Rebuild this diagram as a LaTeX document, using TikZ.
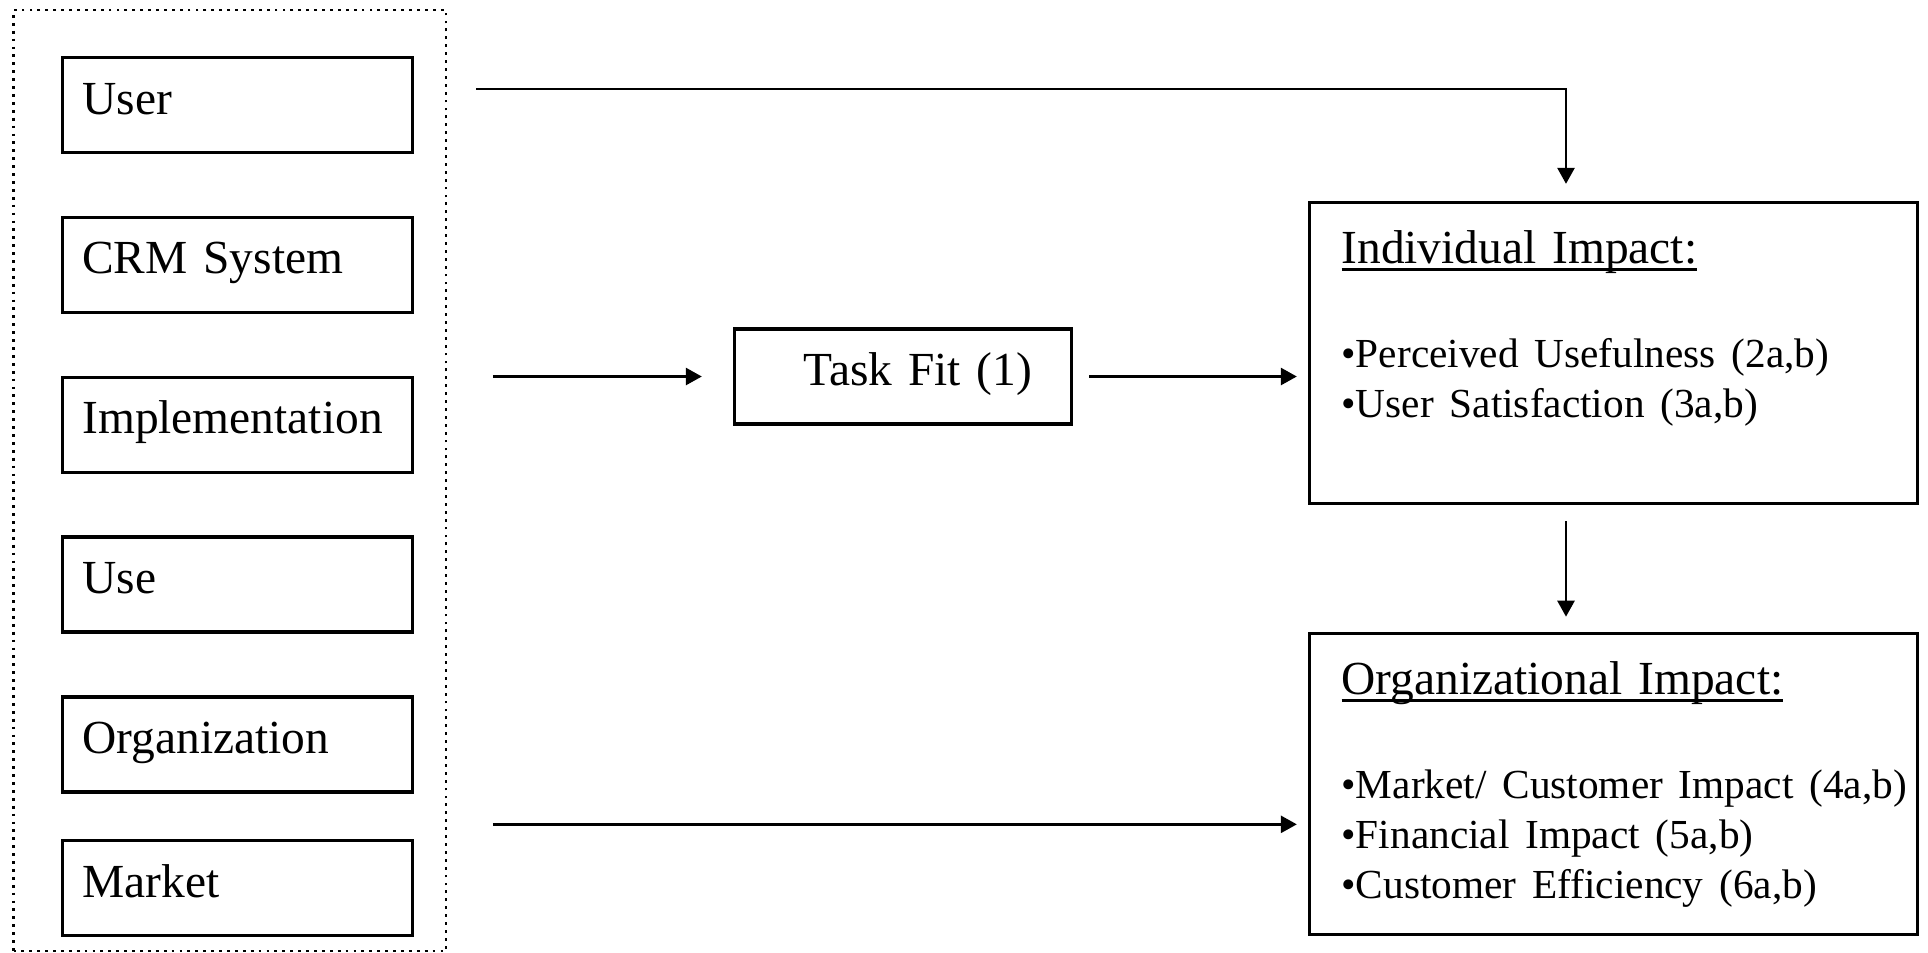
\documentclass[tikz,border=0pt]{standalone}
\usepackage{fontspec}
\setmainfont{Liberation Serif}
\usetikzlibrary{arrows.meta, positioning}

\newcommand{\itemfont}{\fontsize{23.5}{28.45}\selectfont}
\newcommand{\impacthead}[1]{\setbox0=\hbox{#1}\rlap{\rule[-0.15cm]{\wd0}{0.054cm}}\box0}

\begin{document}
\begin{tikzpicture}[
    >={Triangle[width=0.34cm, length=0.32cm]},
    font=\fontsize{27}{28.45}\selectfont,
    block/.style = {draw, line width=1.9pt, text width=6.2cm, inner xsep=0.4cm, inner ysep=0pt, text height=1.13cm, text depth=0.77cm, align=left},
    impact/.style = {draw, line width=1.9pt, text width=12.16cm, inner sep=0pt, text height=1.22cm, text depth=4.8cm, align=left, execute at begin node={\leftskip=0.64cm\rightskip=-0.6cm plus 1fil}},
    group/.style = {draw, line width=1.6pt, dash pattern=on 1.6pt off 2.9pt, minimum width=8.65cm, minimum height=18.82cm},
    arrow/.style = {->, line width=1.5pt}
]
\useasboundingbox (0,0) rectangle (38.56,-19.04);

% =========================================================
% INPUT FACTORS (left column)
% =========================================================
\node[block] (user) at (4.746,-2.1) {User};
\node[block, below=1.23cm of user] (crm) {CRM System};
\node[block, below=1.23cm of crm] (impl) {Implementation};
\node[block, below=1.23cm of impl] (use) {Use};
\node[block, below=1.23cm of use] (orga) {Organization};
\node[block, below=0.91cm of orga] (market) {Market};

% dotted frame round the factors
\node[group] (inputs) at (4.595,-9.61) {};

% =========================================================
% TASK FIT AND IMPACTS
% =========================================================
\node[block, text width=5.94cm] (task) at (18.06,-7.53) {\hspace*{0.98cm}Task Fit (1)};

\node[impact] (indiv) at (32.27,-7.06) {\impacthead{Individual Impact:}\\[1.08cm]{\itemfont\textbullet Perceived Usefulness (2a,b)\\\textbullet User Satisfaction (3a,b)}};

\node[impact, below=2.53cm of indiv] (org) {\impacthead{Organizational Impact:}\\[1.08cm]{\itemfont\textbullet Market/ Customer Impact (4a,b)\\\textbullet Financial Impact (5a,b)\\\textbullet Customer Efficiency (6a,b)}};

% =========================================================
% WIRING
% =========================================================
% top route: factors to individual impact
\draw[arrow, shorten >=0.34cm] ([shift={(1.25cm,0.32cm)}]user.east) -| ([xshift=-0.95cm]indiv.north);

% middle route through task fit
\draw[arrow, shorten >=0.62cm] ([xshift=-4.8cm]task.west) -- (task.west);
\draw[arrow, shorten <=0.32cm, shorten >=0.22cm] (task.east) -- (task.east -| indiv.west);

% individual to organizational impact
\draw[arrow, shorten <=0.32cm, shorten >=0.3cm] ([xshift=-0.95cm]indiv.south) -- ([xshift=-0.95cm]org.north);

% bottom route: factors to organizational impact
\draw[arrow, shorten >=0.22cm] ([shift={(-16.3cm,-0.81cm)}]org.west) -- ([yshift=-0.81cm]org.west);

\end{tikzpicture}
\end{document}
